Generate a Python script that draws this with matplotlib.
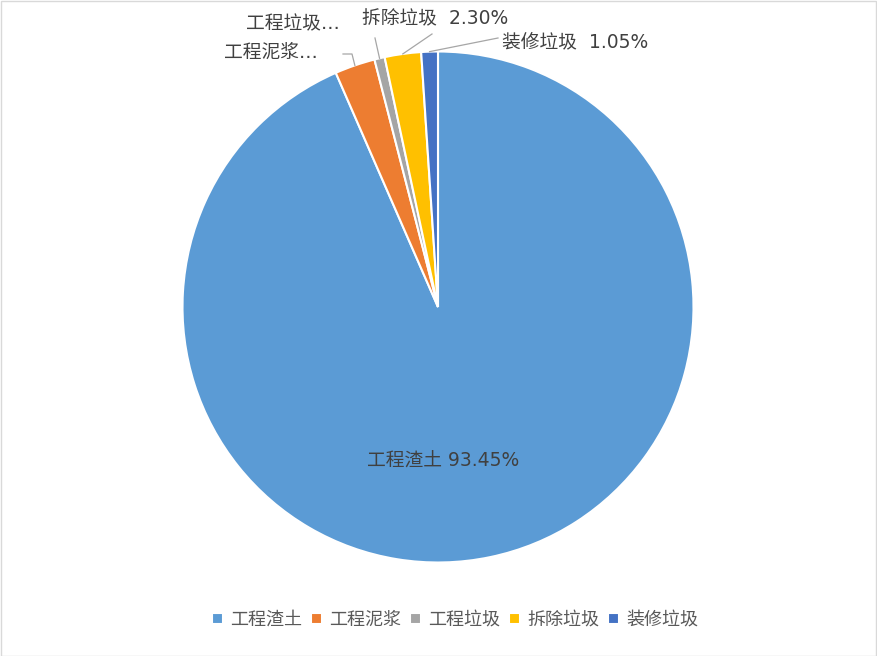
import numpy as np
import matplotlib.pyplot as plt
from matplotlib.patches import Rectangle

plt.rcParams['font.family'] = ['DejaVu Sans', 'Noto Sans CJK SC']

# data
categories = ['工程渣土', '工程泥浆', '工程垃圾', '拆除垃圾', '装修垃圾']
shares = [93.45, 2.55, 0.65, 2.30, 1.05]
point_labels = ['工程渣土 93.45%', '工程泥浆…', '工程垃圾…', '拆除垃圾  2.30%', '装修垃圾  1.05%']
colors = ['#5B9BD5', '#ED7D31', '#A5A5A5', '#FFC000', '#4472C4']

W, H = 877, 656
fig = plt.figure(figsize=(W / 100, H / 100), dpi=100)
ax = fig.add_axes([0, 0, 1, 1])
ax.set_xlim(0, W)
ax.set_ylim(0, H)
ax.set_aspect('equal')
ax.axis('off')

# chart border
fig.patches.append(Rectangle((0.5 / W, 0.5 / H), 1 - 1.5 / W, 1 - 1.5 / H,
                             transform=fig.transFigure, fill=False,
                             edgecolor='#D9D9D9', linewidth=1))

cx, cy, r = 438, H - 307, 255.5
wedges, _ = ax.pie(shares, colors=colors, startangle=90, counterclock=False,
                   center=(cx, cy), radius=r, frame=True,
                   wedgeprops=dict(edgecolor='white', linewidth=1.5))
ax.set_xlim(0, W)
ax.set_ylim(0, H)
ax.axis('off')

lab_color = '#404040'
fs = 13.5

# big slice label inside
ax.text(443, H - 461, point_labels[0], ha='center', va='center',
        fontsize=fs, color=lab_color)

# outside labels: text anchor (x, y from top), alignment, leader elbow
outside = {
    1: dict(pos=(318, 52), ha='right', elbow=[(352, 54), (343, 54)]),
    2: dict(pos=(340, 24), ha='right', elbow=[(375, 38)]),
    3: dict(pos=(362, 19), ha='left', elbow=[(432, 34)]),
    4: dict(pos=(502, 42), ha='left', elbow=[(498, 38)]),
}
for i, o in outside.items():
    w = wedges[i]
    mid = np.deg2rad((w.theta1 + w.theta2) / 2)
    px, py = cx + r * np.cos(mid), cy + r * np.sin(mid)
    pts = [(px, py)] + [(x, H - y) for x, y in o['elbow']]
    xs, ys = zip(*pts)
    ax.plot(xs, ys, color='#A6A6A6', linewidth=0.9)
    tx, ty = o['pos']
    ax.text(tx, H - ty, point_labels[i], ha=o['ha'], va='center',
            fontsize=fs, color=lab_color)

fig.legend(wedges, categories, loc='center', bbox_to_anchor=(455 / W, 1 - 620 / H),
           ncol=5, frameon=False, fontsize=13, labelcolor='#595959',
           handlelength=0.6, handleheight=0.6, handletextpad=0.4,
           columnspacing=0.5)

plt.savefig('out.png', dpi=100)
